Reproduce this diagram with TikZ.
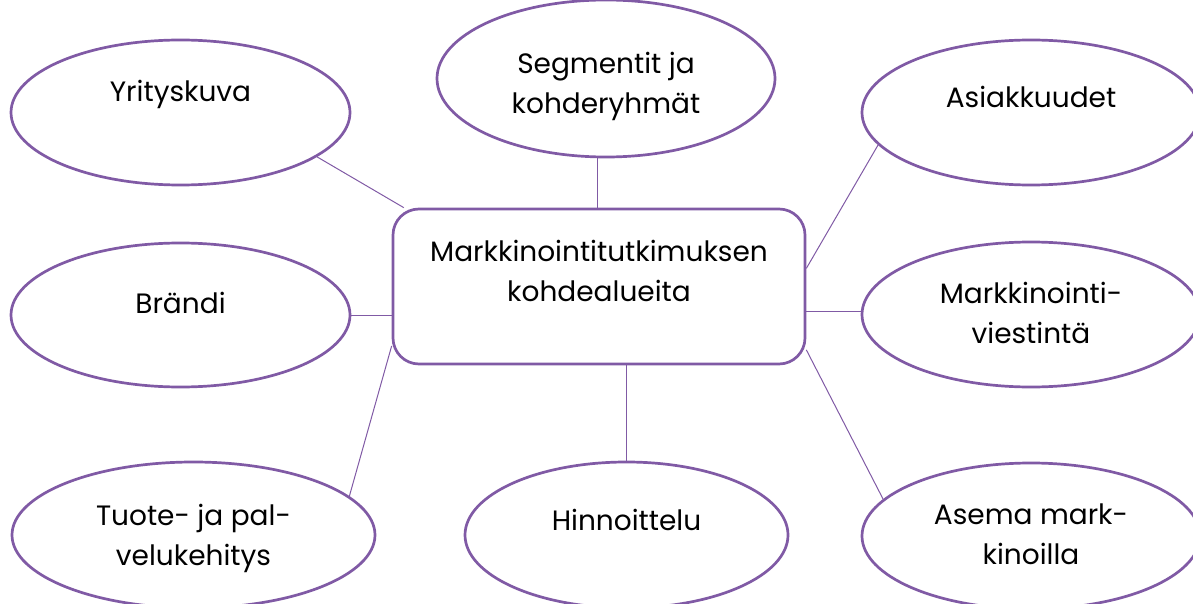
\documentclass[tikz,border=0pt]{standalone}
\usepackage{fontspec}
\setmainfont{Poppins}
\usetikzlibrary{shapes.geometric}
\definecolor{lila}{RGB}{128,90,165}
% teksti ylhäältä tasattuna laatikon sisään
\newcommand{\ylateksti}[3]{\begin{minipage}[c][#2][t]{#1}\centering\strut #3\end{minipage}}

\begin{document}
\begin{tikzpicture}[x=1pt,y=-1pt,
	kupla/.style={ellipse,draw=lila,line width=2.7pt,fill=white,inner sep=0pt,
		minimum width=339pt,minimum height=145pt,font=\fontsize{28}{40}\selectfont},
	keskus/.style={rectangle,rounded corners=26pt,draw=lila,line width=2.7pt,inner sep=0pt,
		minimum width=412pt,minimum height=155pt,font=\fontsize{28}{40}\selectfont},
	viiva/.style={draw=lila,line width=1pt}]
	\useasboundingbox (0,0) rectangle (1193,604);
	%	\draw[gray!30,step=50] (0,0) grid (1193,604);
	\node[keskus] (tutkimus) at (599,286.5) {\ylateksti{390pt}{106pt}{Markkinointitutkimuksen\\kohdealueita}};
	\node[kupla] (yrityskuva) at (180.5,112.5) {\ylateksti{220pt}{78pt}{Yrityskuva}};
	\node[kupla,minimum width=338pt,minimum height=157pt] (segmentit) at (606,78.5) {\ylateksti{220pt}{66pt}{Segmentit ja\\kohderyhmät}};
	\node[kupla,minimum width=338pt] (asiakkuudet) at (1031,112.5) {\ylateksti{220pt}{66pt}{Asiakkuudet}};
	\node[kupla,minimum width=338pt] (viestinta) at (1031,314.5) {\ylateksti{220pt}{78pt}{Markkinointi-\\viestintä}};
	\node[kupla,minimum width=338pt,minimum height=146pt] (asema) at (1031,536) {\ylateksti{220pt}{80pt}{Asema mark-\\kinoilla}};
	\node[kupla,minimum height=144pt] (brandi) at (180.5,315) {\ylateksti{220pt}{60pt}{Brändi}};
	\node[kupla,minimum width=363pt,minimum height=146pt] (tuote) at (193.5,535) {\ylateksti{240pt}{76pt}{Tuote- ja pal-\\velukehitys}};
	\node[kupla,minimum width=323pt,minimum height=146pt] (hinnoittelu) at (626.5,535) {\ylateksti{220pt}{66pt}{Hinnoittelu}};
	% yhdysviivat
	\draw[viiva] (yrityskuva.-18) -- (tutkimus.158);
	\draw[viiva] (segmentit.-96) -- (segmentit.-96 |- tutkimus.north);
	\draw[viiva] (asiakkuudet.-168) -- (tutkimus.5);
	\draw[viiva] (viestinta.179) -- (viestinta.179 -| tutkimus.east);
	\draw[viiva] (asema.166) -- (tutkimus.-17);
	\draw[viiva] (hinnoittelu.north) -- (hinnoittelu.north |- tutkimus.south);
	\draw[viiva] (tuote.14) -- (tutkimus.-164);
	\draw[viiva] (brandi.east) -- (brandi.east -| tutkimus.west);
\end{tikzpicture}
\end{document}
